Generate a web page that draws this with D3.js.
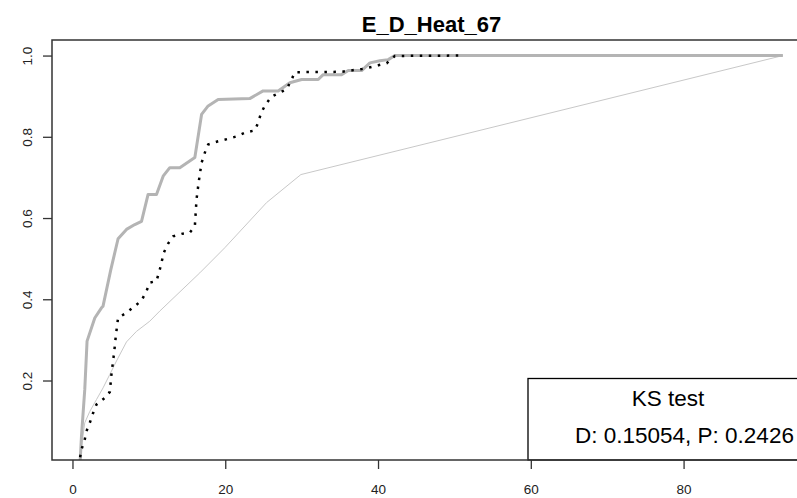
<!DOCTYPE html>
<html>
<head>
<meta charset="utf-8">
<script src="https://cdn.jsdelivr.net/npm/d3@7/dist/d3.min.js"></script>
<style>
  html, body { margin: 0; padding: 0; background: #fff; }
  svg { display: block; }
  text { font-family: "Liberation Sans", Arial, Helvetica, sans-serif; }
</style>
</head>
<body>
<svg id="chart" width="797" height="498"></svg>
<script>
// ---- data ----
const chartTitle = "E_D_Heat_67";
const xTicks = [0, 20, 40, 60, 80];
const yTicks = [0.2, 0.4, 0.6, 0.8, 1.0];

// thick gray empirical CDF
const grayX = [1, 1.18, 1.61, 1.91, 2.92, 3.8, 4.0, 5.02, 5.97, 7.07, 8.16, 9.04, 9.9, 11.0, 11.87, 12.74, 14.05, 16.02, 16.9, 17.76, 19.07, 23.2, 24.96, 26.93, 28.46, 30.0, 32.17, 32.82, 35.23, 36.1, 37.85, 38.94, 40.25, 41.34, 42.2, 93];
const grayY = [0.0, 0.063, 0.178, 0.297, 0.354, 0.379, 0.383, 0.473, 0.549, 0.572, 0.584, 0.592, 0.658, 0.658, 0.703, 0.724, 0.724, 0.749, 0.855, 0.876, 0.892, 0.894, 0.913, 0.913, 0.933, 0.941, 0.941, 0.953, 0.953, 0.963, 0.963, 0.982, 0.987, 0.990, 1.0, 1.0];

// black dotted empirical CDF
const dotX = [1.0, 1.18, 1.61, 1.83, 2.27, 2.70, 3.14, 4.23, 4.89, 5.11, 5.32, 5.54, 5.67, 5.97, 7.07, 8.16, 9.04, 9.69, 10.12, 11.0, 11.43, 11.96, 12.52, 13.18, 14.28, 15.36, 16.02, 16.24, 16.54, 16.9, 17.33, 17.76, 19.07, 20.38, 21.48, 22.57, 23.88, 24.31, 24.66, 25.19, 26.06, 27.15, 28.03, 28.68, 29.12, 35.23, 37.9, 38.72, 40.03, 41.13, 42.2, 50.5];
const dotY = [0.011, 0.030, 0.055, 0.075, 0.096, 0.120, 0.141, 0.157, 0.172, 0.217, 0.248, 0.284, 0.309, 0.354, 0.367, 0.383, 0.397, 0.420, 0.441, 0.445, 0.473, 0.515, 0.537, 0.555, 0.561, 0.564, 0.580, 0.646, 0.691, 0.736, 0.761, 0.781, 0.789, 0.795, 0.801, 0.810, 0.816, 0.835, 0.857, 0.877, 0.899, 0.909, 0.917, 0.941, 0.959, 0.960, 0.967, 0.970, 0.976, 0.981, 0.999, 1.0];

// thin light-gray reference CDF
const thinX = [1.0, 1.61, 2.27, 3.14, 4.01, 4.89, 5.76, 7.07, 8.38, 10.12, 11.43, 16.67, 19.95, 25.41, 29.9, 93];
const thinY = [0.011, 0.096, 0.124, 0.153, 0.182, 0.215, 0.248, 0.295, 0.321, 0.346, 0.371, 0.465, 0.527, 0.638, 0.707, 1.0];

const legendTitle = "KS test";
const legendText = "D: 0.15054, P: 0.2426";

(function () {
  // ---- layout ----
  const svg = d3.select("#chart");
  const pL = 52, pR = 811, pT = 40, pB = 460;

  const x = d3.scaleLinear().domain([-2.68, 96.68]).range([pL, pR]);
  const y = d3.scaleLinear().domain([0.0043, 1.0383]).range([pB, pT]);

  svg.append("defs").append("clipPath").attr("id", "plotclip")
    .append("rect").attr("x", pL).attr("y", pT)
    .attr("width", pR - pL).attr("height", pB - pT);

  const zip = (xs, ys) => xs.map((v, i) => [v, ys[i]]);
  const line = d3.line().x(d => x(d[0])).y(d => y(d[1]));

  const plot = svg.append("g").attr("clip-path", "url(#plotclip)");

  plot.append("path").datum(zip(thinX, thinY))
    .attr("d", line).attr("fill", "none")
    .attr("stroke", "#c8c8c8").attr("stroke-width", 1);

  plot.append("path").datum(zip(grayX, grayY))
    .attr("d", line).attr("fill", "none")
    .attr("stroke", "#b4b4b4").attr("stroke-width", 3)
    .attr("stroke-linejoin", "round");

  plot.append("path").datum(zip(dotX, dotY))
    .attr("d", line).attr("fill", "none")
    .attr("stroke", "#000").attr("stroke-width", 2.5)
    .attr("stroke-dasharray", "2.5,6.5");

  // ---- axes ----
  const xAxis = svg.append("g").attr("transform", `translate(0,${pB})`)
    .call(d3.axisBottom(x).tickValues(xTicks).tickSize(9).tickFormat(d3.format("d")));
  xAxis.select(".domain").remove();
  xAxis.selectAll("line").attr("stroke", "#333").attr("stroke-width", 1.3);
  xAxis.selectAll("text").attr("y", 34).attr("dy", null)
    .attr("font-size", 13.5).attr("fill", "#222")
    .style("font-family", '"Liberation Sans", Arial, sans-serif');

  const yAxis = svg.append("g").attr("transform", `translate(${pL},0)`)
    .call(d3.axisLeft(y).tickValues(yTicks).tickSize(9).tickFormat(d3.format(".1f")));
  yAxis.select(".domain").remove();
  yAxis.selectAll("line").attr("stroke", "#333").attr("stroke-width", 1.3);
  yAxis.selectAll("text")
    .attr("x", 0).attr("y", -20.5).attr("dy", null)
    .attr("transform", "rotate(-90)")
    .attr("text-anchor", "middle")
    .attr("font-size", 13.5).attr("fill", "#222")
    .style("font-family", '"Liberation Sans", Arial, sans-serif');

  // ---- legend ----
  const legLeft = 528, legTop = 378.5;
  svg.append("rect").attr("x", legLeft).attr("y", legTop)
    .attr("width", 400).attr("height", pB - legTop)
    .attr("fill", "#fff").attr("stroke", "#000").attr("stroke-width", 1.3);
  svg.append("text").attr("x", 668).attr("y", 406)
    .attr("text-anchor", "middle").attr("font-size", 22.5).attr("fill", "#000")
    .text(legendTitle);
  svg.append("text").attr("x", 575).attr("y", 442.5)
    .attr("font-size", 22.5).attr("fill", "#000")
    .text(legendText);

  // ---- box ----
  svg.append("rect").attr("x", pL).attr("y", pT)
    .attr("width", pR - pL).attr("height", pB - pT)
    .attr("fill", "none").attr("stroke", "#333").attr("stroke-width", 1.5);

  // ---- title ----
  svg.append("text").attr("x", (pL + pR) / 2).attr("y", 31.5)
    .attr("text-anchor", "middle").attr("font-size", 22).attr("font-weight", "bold")
    .attr("fill", "#000").text(chartTitle);
})();
</script>
</body>
</html>
